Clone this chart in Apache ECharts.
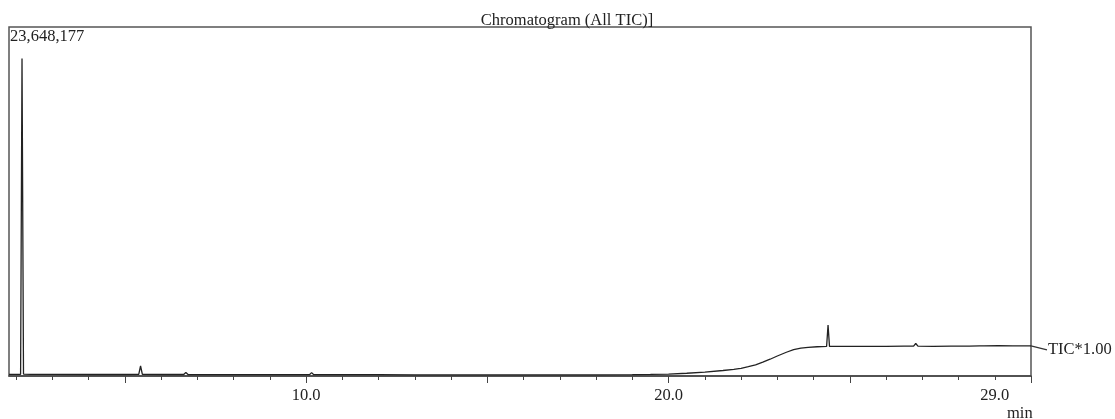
<!DOCTYPE html>
<html>
<head>
<meta charset="utf-8">
<script src="https://cdn.jsdelivr.net/npm/echarts@6/dist/echarts.min.js"></script>
<style>
  html, body { margin: 0; padding: 0; background: #fff; }
  #chart { width: 1115px; height: 419px; }
</style>
</head>
<body>
<div id="chart"></div>
<script>
// retention time (min) and TIC counts
const times = [
  1.80, 2.00, 2.12, 2.159, 2.20, 2.40, 3.00, 4.00, 5.00,
  5.38, 5.43, 5.48, 6.00, 6.62, 6.68, 6.74, 7.50,
  8.40, 8.44, 8.48, 8.68, 8.73, 8.78, 9.50,
  10.09, 10.15, 10.21, 11.0, 12.0, 13.0, 14.0, 15.0, 16.0, 17.0, 18.0,
  19.0, 19.5, 20.0, 20.5, 21.0, 21.5, 21.8, 21.94, 21.97, 22.0,
  22.2, 22.4, 22.6, 22.8, 23.0, 23.25, 23.45, 23.65, 23.85, 24.1,
  24.36, 24.40, 24.44, 24.6, 25.0, 25.5, 26.0, 26.5,
  26.76, 26.82, 26.88, 27.3, 27.8, 28.3,
  28.58, 28.63, 28.7, 29.1, 29.5, 30.0
];
const tic = [
  125000, 125000, 130000, 23648177, 140000, 120000, 115000, 110000, 110000,
  115000, 745000, 120000, 110000, 110000, 260000, 110000, 105000,
  105000, 170000, 105000, 105000, 200000, 105000, 100000,
  100000, 250000, 100000, 95000, 95000, 90000, 90000, 90000, 85000, 85000, 90000,
  100000, 115000, 145000, 205000, 290000, 410000, 500000, 550000, 690000, 570000,
  690000, 830000, 1030000, 1250000, 1490000, 1770000, 1960000, 2080000, 2140000, 2180000,
  2200000, 3800000, 2210000, 2200000, 2210000, 2200000, 2210000, 2220000,
  2220000, 2420000, 2220000, 2210000, 2220000, 2230000,
  2240000, 2310000, 2240000, 2260000, 2240000, 2250000
];
const minorTicks = [2, 3, 4, 5, 6, 7, 8, 9, 10, 11, 12, 13, 14, 15, 16, 17, 18, 19, 20, 21, 22, 23, 24, 25, 26, 27, 28, 29, 30];
const majorTicks = [5, 10, 15, 20, 25, 30];
const tickLabels = [10, 20, 29];

const serif = '"Liberation Serif", "DejaVu Serif", serif';
const chart = echarts.init(document.getElementById('chart'));

const texts = [
  {
    type: 'text', left: 10, top: 28,
    style: { text: '23,648,177', font: '16.5px ' + serif, fill: '#222' }
  },
  {
    type: 'text', left: 1007, top: 405,
    style: { text: 'min', font: '16.5px ' + serif, fill: '#222' }
  }
];

const option = {
  animation: false,
  title: {
    text: 'Chromatogram (All TIC)]',
    left: 562,
    top: 7,
    textAlign: 'center',
    textStyle: { fontFamily: serif, fontSize: 16.5, fontWeight: 'normal', color: '#222' }
  },
  grid: {
    left: 9, right: 84, top: 27, bottom: 43,
    show: true, borderColor: '#555', borderWidth: 1.5
  },
  xAxis: [
    {
      type: 'value', min: 1.8, max: 30,
      axisLine: { show: true, lineStyle: { color: '#444', width: 1.5 } },
      axisTick: { show: true, customValues: minorTicks, length: 4, lineStyle: { color: '#444' } },
      axisLabel: {
        customValues: tickLabels, margin: 11,
        formatter: v => v.toFixed(1),
        fontFamily: serif, fontSize: 16.5, color: '#222'
      },
      splitLine: { show: false }
    },
    {
      type: 'value', min: 1.8, max: 30, position: 'bottom',
      axisLine: { show: false },
      axisTick: { show: true, customValues: majorTicks, length: 7, lineStyle: { color: '#444' } },
      axisLabel: { show: false },
      splitLine: { show: false }
    }
  ],
  yAxis: { type: 'value', min: 0, max: 26000000, show: false },
  graphic: texts,
  series: [
    {
      type: 'line',
      data: times.map((t, i) => [t, tic[i]]),
      showSymbol: false,
      sampling: 'none',
      lineStyle: { color: '#222', width: 1.3 },
      endLabel: {
        show: true, formatter: 'TIC*1.00', distance: 17, offset: [0, 4],
        fontFamily: serif, fontSize: 16.5, color: '#222'
      }
    }
  ]
};
chart.setOption(option);

// leader line from the trace end to its label
const end = chart.convertToPixel({ gridIndex: 0 }, [times[times.length - 1], tic[tic.length - 1]]);
chart.setOption({
  graphic: texts.concat([
    {
      type: 'line',
      shape: { x1: end[0], y1: end[1], x2: end[0] + 16, y2: end[1] + 4 },
      style: { stroke: '#333', lineWidth: 1.2 }
    }
  ])
});
</script>
</body>
</html>
